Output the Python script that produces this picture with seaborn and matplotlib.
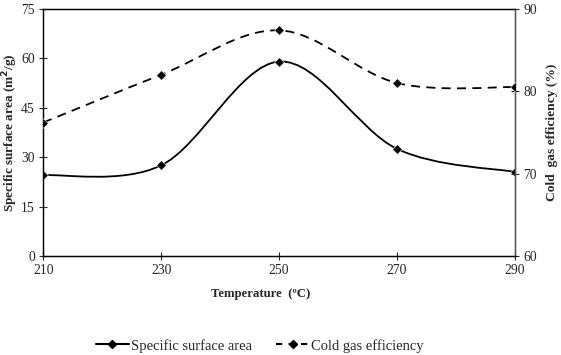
import numpy as np
import pandas as pd
import seaborn as sns
import matplotlib.pyplot as plt
from matplotlib.path import Path
from matplotlib.patches import PathPatch
from matplotlib.lines import Line2D

temperature = [210, 230, 250, 270, 290]
surface_area = [24.5, 27.5, 59.0, 32.5, 25.5]
gas_efficiency = [76.2, 82.0, 87.4, 81.0, 80.5]


def smooth_path(xs, ys):
    # excel style smoothed line: bezier segments through the points
    pts = list(zip(xs, ys))
    n = len(pts)
    verts = [pts[0]]
    codes = [Path.MOVETO]
    for i in range(n - 1):
        p0 = pts[max(i - 1, 0)]
        p1 = pts[i]
        p2 = pts[i + 1]
        p3 = pts[min(i + 2, n - 1)]
        c1 = (p1[0] + (p2[0] - p0[0]) / 6, p1[1] + (p2[1] - p0[1]) / 6)
        c2 = (p2[0] - (p3[0] - p1[0]) / 6, p2[1] - (p3[1] - p1[1]) / 6)
        verts += [c1, c2, p2]
        codes += [Path.CURVE4] * 3
    return Path(verts, codes)


sns.set_style("ticks")
plt.rcParams['font.family'] = ['Liberation Serif', 'DejaVu Serif']

df = pd.DataFrame({"temp": temperature, "ssa": surface_area, "cge": gas_efficiency})

fig, ax = plt.subplots(figsize=(5.61, 3.55), dpi=100)
fig.subplots_adjust(left=0.077, right=0.918, bottom=0.279, top=0.975)
ax2 = ax.twinx()

ax.add_patch(PathPatch(smooth_path(df.temp, df.ssa), fill=False, color="black", lw=1.3))
ax2.add_patch(PathPatch(smooth_path(df.temp, df.cge), fill=False, color="black", lw=1.3,
                        linestyle=(0, (5, 3.5))))
sns.scatterplot(data=df, x="temp", y="ssa", ax=ax, marker="D", s=24, color="black", zorder=3)
sns.scatterplot(data=df, x="temp", y="cge", ax=ax2, marker="D", s=24, color="black", zorder=3)

ax.set_xlim(210, 290)
ax.set_xticks(temperature)
ax.set_ylim(0, 75)
ax.set_yticks(np.arange(0, 76, 15))
ax2.set_ylim(60, 90)
ax2.set_yticks([60, 70, 80, 90])

for a in (ax, ax2):
    a.tick_params(direction="inout", length=6, width=0.8, labelsize=9.8, pad=3)
    for s in a.spines.values():
        s.set_linewidth(0.9)
        s.set_color("black")
ax2.spines["right"].set_color("#555555")

ax.set_xlabel("Temperature  (ºC)", fontsize=9.2, fontweight="bold")
ax.xaxis.set_label_coords(0.46, -0.13)
ax.set_ylabel("Specific surface area (m$^\\mathbf{2}$/g)", fontsize=9.5, fontweight="bold")
ax.yaxis.set_label_coords(-0.05, 0.5)
ax2.set_ylabel("Cold  gas efficiency (%)", fontsize=9.7, fontweight="bold")
ax2.yaxis.set_label_coords(1.066, 0.5)

handles = [
    Line2D([], [], color="black", lw=1.5, marker="D", markersize=4),
    Line2D([], [], color="black", lw=1.5, marker="D", markersize=4, linestyle=(0, (3, 3))),
]
fig.legend(handles, ["Specific surface area", "Cold gas efficiency"], loc="lower center",
           bbox_to_anchor=(0.463, -0.03), ncol=2, frameon=False, fontsize=10.5,
           handlelength=2.3, handletextpad=0.1, columnspacing=1.7)

fig.savefig("out.png", dpi=100)
